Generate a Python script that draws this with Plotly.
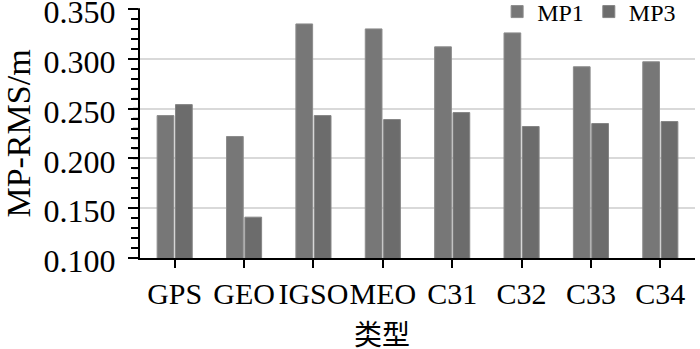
import plotly.graph_objects as go

categories = ["GPS", "GEO", "IGSO", "MEO", "C31", "C32", "C33", "C34"]
mp1 = [0.243, 0.222, 0.335, 0.330, 0.312, 0.326, 0.292, 0.297]
mp3 = [0.254, 0.141, 0.243, 0.239, 0.246, 0.232, 0.235, 0.237]
y_ticks = [0.100, 0.150, 0.200, 0.250, 0.300, 0.350]
y_tick_labels = ["0.100", "0.150", "0.200", "0.250", "0.300", "0.350"]
y_range = [0.10, 0.35]
minor_step = 0.01

serif = "Liberation Serif, Times New Roman, serif"

fig = go.Figure()
fig.add_trace(go.Bar(name="MP1", x=categories, y=mp1,
                     marker=dict(color="#777777", line=dict(color="#8c8c8c", width=1))))
fig.add_trace(go.Bar(name="MP3", x=categories, y=mp3,
                     marker=dict(color="#6c6c6c", line=dict(color="#858585", width=1))))

# minor tick marks on the y axis (axis decoration, in paper units so they are not clipped)
n_minor = int(round((y_range[1] - y_range[0]) / minor_step))
minor_shapes = [dict(type="line", xref="paper", yref="paper", xsizemode="pixel", xanchor=0,
                     x0=-7, x1=0, y0=i / n_minor, y1=i / n_minor, layer="above",
                     line=dict(color="black", width=1.5)) for i in range(n_minor + 1)]

fig.update_layout(
    width=700, height=349,
    margin=dict(l=140, r=5, t=9, b=91, autoexpand=False),
    plot_bgcolor="white", paper_bgcolor="white",
    barmode="group", bargap=0.47, bargroupgap=0.09,
    font=dict(family=serif, color="black"),
    showlegend=True,
    legend=dict(orientation="h", x=0.975, xanchor="right", y=0.988, yanchor="middle",
                bgcolor="rgba(0,0,0,0)", font=dict(size=24, family=serif),
                itemwidth=30, tracegroupgap=0),
    xaxis=dict(showline=True, linecolor="black", linewidth=2,
               ticks="outside", ticklen=8, tickwidth=2, tickcolor="black",
               tickangle=0,
               tickfont=dict(size=30, family=serif), showgrid=False),
    yaxis=dict(range=y_range, tickvals=y_ticks, ticktext=y_tick_labels,
               showline=True, linecolor="black", linewidth=2,
               ticks="outside", ticklen=10, tickwidth=2, tickcolor="black",
               tickfont=dict(size=32, family=serif),
               ticklabeloverflow="allow", ticklabelshift=3, ticklabelstandoff=6,
               showgrid=True, gridcolor="#d9d9d9", gridwidth=1.5,
               minor=dict(tickmode="linear", tick0=0.1, dtick=minor_step, ticks="outside",
                          ticklen=7, tickwidth=1.5, tickcolor="black", showgrid=False),
               title=dict(text="MP-RMS/m", font=dict(size=34, family=serif), standoff=3)),
    shapes=minor_shapes,
    annotations=[dict(text="类型", xref="paper", yref="paper", x=0.436, y=-0.30,
                      xanchor="center", yanchor="middle", showarrow=False,
                      font=dict(size=28, family="Noto Sans CJK SC, serif"))],
)

fig.write_html("out.html", config={"displayModeBar": False},
               post_script="document.body.style.margin='0';")
